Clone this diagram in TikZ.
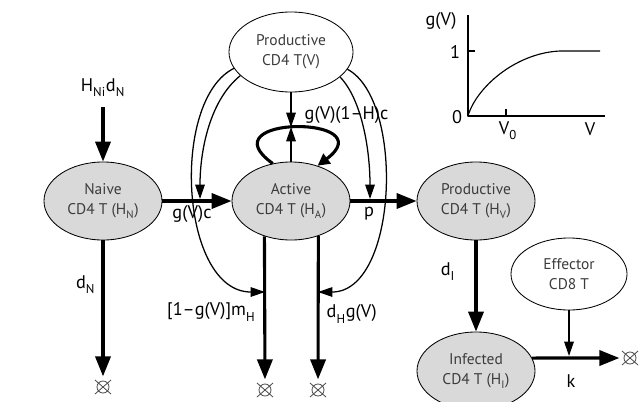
\documentclass[tikz,border=0pt]{standalone}
\usepackage{fontspec}
\setmainfont{PT Sans}
\usetikzlibrary{arrows.meta,calc,shapes.geometric}
\definecolor{cellgray}{RGB}{217,217,217}
\definecolor{celltext}{RGB}{60,60,60}
\definecolor{sinkgray}{RGB}{80,80,80}
\newcommand{\lsub}[1]{\textsubscript{\raisebox{-0.4ex}{#1}}}

\begin{document}
\begin{tikzpicture}[x=0.025cm,y=-0.025cm,line join=round,
  cell/.style={ellipse,draw,line width=0.6pt,fill=cellgray,text=celltext,
   minimum width=2.95cm,minimum height=1.95cm,inner sep=0pt,align=center,
   font=\fontsize{11}{14}\selectfont},
  virus/.style={cell,fill=white},
  rate/.style={font=\fontsize{13}{15}\selectfont,inner sep=1pt},
  flow/.style={line width=2.2pt,-{Triangle[length=0.5cm,width=0.38cm]}},
  feed/.style={line width=0.9pt,-{Triangle[length=0.36cm,width=0.24cm]}},
  sink/.style={circle,draw=sinkgray,line width=0.6pt,minimum size=0.3cm,
   inner sep=0pt}]
 \useasboundingbox (0,0) rectangle (642,401);
 % cell populations
 \node[virus,minimum width=3.1cm,minimum height=2cm] (virus) at (291,52)
  {Productive\\CD4 T(V)};
 \node[cell] (naive) at (103,201) {Naive\\CD4 T (H\lsub{N})};
 \node[cell] (active) at (291,201) {Active\\CD4 T (H\lsub{A})};
 \node[cell] (prod) at (476,201) {Productive\\CD4 T (H\lsub{V})};
 \node[cell] (inf) at (476,371) {Infected\\CD4 T (H\lsub{I})};
 \node[virus,minimum width=2.9cm,minimum height=1.8cm] (cd8) at (569,274)
  {Effector\\CD8 T};
 % sinks
 \node[sink] (sinkN) at (103,387) {};
 \node[sink] (sinkM) at (265,390) {};
 \node[sink] (sinkD) at (318,390) {};
 \node[sink] (sinkK) at (630,358) {};
 \foreach \s in {sinkN,sinkM,sinkD,sinkK}
  \draw[sinkgray,line width=0.6pt] ($(\s)+(-8,-7)$) -- ($(\s)+(8,7)$)
   ($(\s)+(-8,7)$) -- ($(\s)+(8,-7)$);
 % main flows
 \node[rate] (source) at (103,88) {H\lsub{Ni}d\lsub{N}};
 \draw[flow,shorten <=6pt] (source) -- (naive);
 \draw[flow] (naive) -- (active);
 \draw[flow] (active) -- (prod);
 \draw[flow] (prod) -- (inf);
 \draw[flow,shorten >=3pt] (naive) -- (sinkN);
 \draw[flow,shorten >=3pt] (active.233) -- (sinkM);
 \draw[flow,shorten >=3pt] (active.308) -- (sinkD);
 \draw[flow,shorten >=3pt] (inf.13) -- (sinkK);
 % activation by virus
 \coordinate (loopTop) at (291,127);
 \coordinate (gHit) at (200,199);
 \coordinate (pHit) at (370,199);
 \coordinate (mHit) at (265,292);
 \coordinate (dHit) at (318,292);
 \coordinate (kHit) at (569,356);
 \draw[feed] (virus.south) -- (loopTop);
 \draw[feed] (active.north) -- (loopTop);
 \draw[line width=2.2pt,-{Triangle[length=0.3cm,width=0.3cm]}]
  (active.116) .. controls (205,115) and (385,115) .. (active.53);
 \draw[feed] (virus.196) .. controls (170,100) and (180,292) .. (mHit);
 \draw[feed] (virus.205) .. controls (210,100) and (200,150) .. (gHit);
 \draw[feed] (virus.333) .. controls (362,100) and (370,150) .. (pHit);
 \draw[feed] (virus.343) .. controls (405,100) and (398,292) .. (dHit);
 \draw[feed] (cd8) -- (kHit);
 % rates
 \node[rate,anchor=west] (grow) at (303,115) {g(V)(1–H)c};
 \node[rate] (gc) at (192,214) {g(V)c};
 \node[rate] (pr) at (369,214) {p};
 \node[rate,anchor=east] (dNlab) at (97,285) {d\lsub{N}};
 \node[rate,anchor=east] (mlab) at (257,312) {[1–g(V)]m\lsub{H}};
 \node[rate,anchor=west] (dlab) at (325,314) {d\lsub{H}g(V)};
 \node[rate] (dIlab) at (448,272) {d\lsub{I}};
 \node[rate] (klab) at (571,381) {k};
 % inset g(V)
 \draw[line width=0.8pt] (468,15) -- (468,116) -- (605,116);
 \draw[line width=0.8pt] (468,51) -- (475,51) (506,116) -- (506,109);
 \draw[line width=0.8pt] (468,116) .. controls (476,88) and (515,53) .. (560,51)
  -- (600,51);
 \node[rate] (gax) at (441,21) {g(V)};
 \node[rate] (gone) at (455,52) {1};
 \node[rate] (gzero) at (457,117) {0};
 \node[rate] (vzero) at (508,131) {V\lsub{0}};
 \node[rate] (vax) at (590,129) {V};
\end{tikzpicture}
\end{document}
